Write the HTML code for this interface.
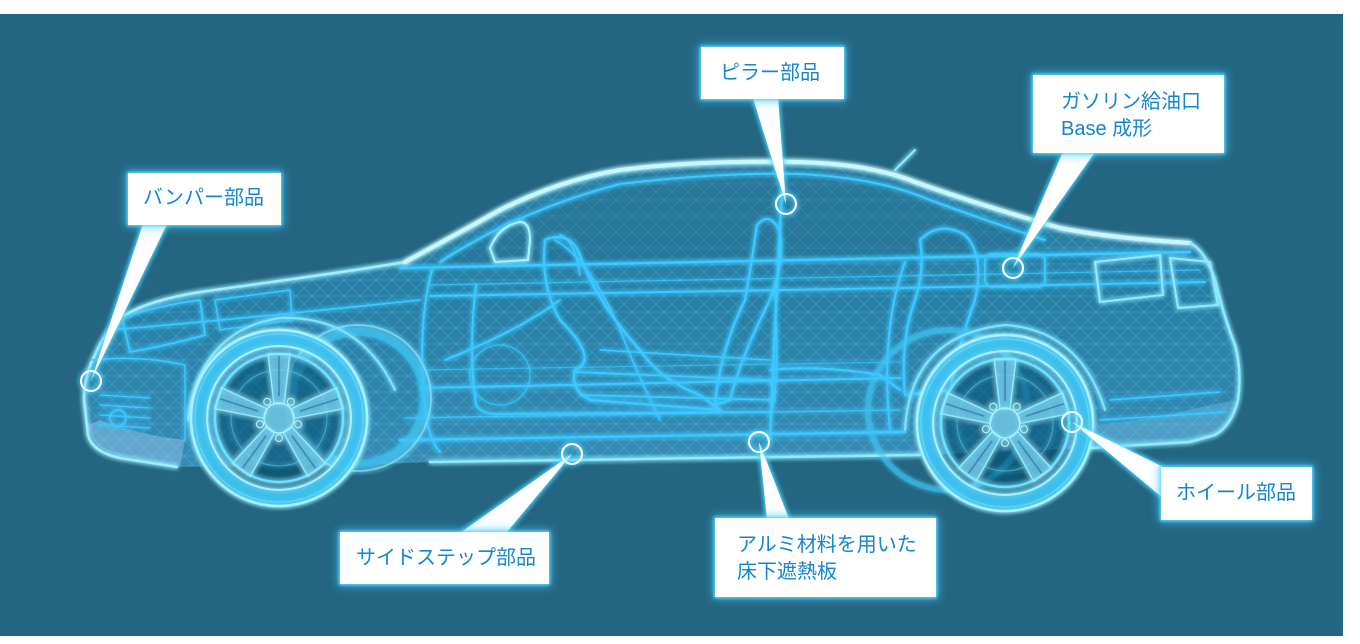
<!DOCTYPE html>
<html><head><meta charset="utf-8">
<style>
html,body{margin:0;padding:0;background:#fff;}
body{width:1360px;height:644px;position:relative;overflow:hidden;font-family:"Liberation Sans","Noto Sans CJK JP",sans-serif;}
svg{position:absolute;left:0;top:0;}
.box{position:absolute;background:#fff;color:#1486cf;font-size:20px;line-height:27px;box-shadow:0 0 3px 1px #5fdcff,0 0 9px 2px rgba(70,200,255,.7);box-sizing:border-box;white-space:nowrap;}
</style></head><body>
<svg width="1360" height="644" viewBox="0 0 1360 644" xmlns="http://www.w3.org/2000/svg">
<defs>
 <filter id="glow" x="-20%" y="-20%" width="140%" height="140%">
  <feGaussianBlur stdDeviation="2.5" result="b"/>
  <feMerge><feMergeNode in="b"/><feMergeNode in="b"/><feMergeNode in="SourceGraphic"/></feMerge>
 </filter>
 <filter id="wglow" x="-50%" y="-50%" width="200%" height="200%">
  <feGaussianBlur stdDeviation="3" result="b"/>
  <feFlood flood-color="#4fd8ff"/>
  <feComposite operator="in" in2="b"/>
  <feMerge><feMergeNode/><feMergeNode/><feMergeNode in="SourceGraphic"/></feMerge>
 </filter>
 <linearGradient id="bodyg" x1="0" y1="160" x2="0" y2="470" gradientUnits="userSpaceOnUse">
  <stop offset="0" stop-color="#45c8ff" stop-opacity=".28"/>
  <stop offset=".45" stop-color="#30b4ee" stop-opacity=".32"/>
  <stop offset="1" stop-color="#55c4ff" stop-opacity=".42"/>
 </linearGradient>
 <pattern id="mesh" width="16" height="16" patternUnits="userSpaceOnUse">
  <path d="M0,0 L16,16 M16,0 L0,16 M0,8 H16" stroke="#6fdcff" stroke-width=".6" fill="none" opacity=".6"/>
 </pattern>
 <clipPath id="bodyclip"><path d="M177,467 L120,458 Q92,452 88,435 L84,400 Q84,375 95,355 Q105,330 125,315 Q150,300 200,292 L300,278 Q370,268 405,262 Q450,238 500,210 Q560,180 620,170 Q700,160 800,162 Q870,164 915,182 Q980,205 1060,228 Q1110,238 1190,243 Q1205,250 1215,280 Q1225,320 1235,345 Q1242,370 1238,400 Q1232,425 1215,435 L1190,442 L1090,448 L920,455 L430,462 L360,465 Z"/></clipPath>
 <g id="wheel">
  <circle r="80" fill="none" stroke="#3ec2ef" stroke-opacity=".65" stroke-width="16"/>
  <circle r="88" fill="none" stroke="#a6f3ff" stroke-width="2.5"/>
  <circle r="84" fill="none" stroke="#6fe0ff" stroke-width="1" opacity=".7"/>
  <circle r="72" fill="none" stroke="#a6f3ff" stroke-width="2"/>
  <circle r="64" fill="rgba(20,80,110,.25)" stroke="#6fe0ff" stroke-width="2.5"/>
  <circle r="48" fill="none" stroke="#4fc8f0" stroke-width="1" opacity=".6"/>
  <g fill="rgba(130,225,255,.45)" stroke="#8eeaff" stroke-width="1.5">
   <polygon points="-5,-14 5,-14 11,-64 -11,-64"/>
   <polygon points="-5,-14 5,-14 11,-64 -11,-64" transform="rotate(72)"/>
   <polygon points="-5,-14 5,-14 11,-64 -11,-64" transform="rotate(144)"/>
   <polygon points="-5,-14 5,-14 11,-64 -11,-64" transform="rotate(216)"/>
   <polygon points="-5,-14 5,-14 11,-64 -11,-64" transform="rotate(288)"/>
  </g>
  <g stroke="#2a7fa3" stroke-width="1.5" opacity=".8">
   <line x1="0" y1="-22" x2="0" y2="-62"/>
   <line x1="0" y1="-22" x2="0" y2="-62" transform="rotate(72)"/>
   <line x1="0" y1="-22" x2="0" y2="-62" transform="rotate(144)"/>
   <line x1="0" y1="-22" x2="0" y2="-62" transform="rotate(216)"/>
   <line x1="0" y1="-22" x2="0" y2="-62" transform="rotate(288)"/>
  </g>
  <circle r="15" fill="rgba(130,225,255,.45)" stroke="#a6f3ff" stroke-width="1.5"/>
  <g fill="none" stroke="#a6f3ff" stroke-width="1.2">
   <circle cx="0" cy="-20" r="3.5" transform="rotate(36)"/>
   <circle cx="0" cy="-20" r="3.5" transform="rotate(108)"/>
   <circle cx="0" cy="-20" r="3.5" transform="rotate(180)"/>
   <circle cx="0" cy="-20" r="3.5" transform="rotate(252)"/>
   <circle cx="0" cy="-20" r="3.5" transform="rotate(324)"/>
  </g>
 </g>
</defs>

<rect x="0" y="14" width="1343" height="622" fill="#246581"/>

<!-- car body -->
<g>
 <path d="M177,467 L120,458 Q92,452 88,435 L84,400 Q84,375 95,355 Q105,330 125,315 Q150,300 200,292 L300,278 Q370,268 405,262 Q450,238 500,210 Q560,180 620,170 Q700,160 800,162 Q870,164 915,182 Q980,205 1060,228 Q1110,238 1190,243 Q1205,250 1215,280 Q1225,320 1235,345 Q1242,370 1238,400 Q1232,425 1215,435 L1190,442 L1090,448 L920,455 L430,462 L360,465 Z" fill="url(#bodyg)"/>
 <rect x="80" y="150" width="1170" height="330" fill="url(#mesh)" clip-path="url(#bodyclip)" opacity=".6"/>
 <path d="M440,266 Q520,205 620,178 Q720,165 800,168 Q880,172 930,195 Q990,220 1045,238 L1000,252 L440,272 Z" fill="#246581" opacity=".3"/>
 <path d="M88,425 Q92,450 120,456 L180,466 L185,440 Q140,435 100,420 Z" fill="#b8d8ff" opacity=".35"/>
 <path d="M1090,448 L1190,442 L1215,435 Q1232,425 1238,400 L1210,405 Q1150,420 1095,425 Z" fill="#9fd6ff" opacity=".25"/>
</g>
<g fill="none" stroke="#3ec8ff" stroke-width="1.8" stroke-linecap="round" filter="url(#glow)">
 <path d="M177,467 L120,458 Q92,452 88,435 L84,400 Q84,375 95,355 Q105,330 125,315 Q150,300 200,292 L300,278 Q370,268 405,262" stroke="#9eeeff" stroke-width="2.5"/>
 <path d="M405,262 Q450,238 500,210 Q560,180 620,170 Q700,160 800,162 Q870,164 915,182 Q980,205 1060,228 Q1110,238 1190,243" stroke="#c8f8ff" stroke-width="4"/>
 <path d="M1190,243 Q1205,250 1215,280 Q1225,320 1235,345 Q1242,370 1238,400 Q1232,425 1215,435 L1190,442 L1090,448" stroke="#8eeaff" stroke-width="2.5"/>
 <path d="M430,462 L920,455" stroke="#8eeaff" stroke-width="2.5"/>
 <path d="M440,262 Q520,210 620,184 Q720,172 800,174 Q880,178 930,200 Q990,222 1045,240" stroke-width="2"/>
 <path d="M400,268 L900,258 L1190,252" stroke-width="2.4"/>
 <path d="M430,296 L900,288 L1205,282" stroke-width="2"/>
 <path d="M430,285 L900,276 L1200,270" stroke-width="1.2" opacity=".7"/>
 <path d="M110,330 Q250,318 420,300" stroke-width="1.6"/>
 <path d="M420,388 L900,378" stroke-width="2"/>
 <path d="M420,370 L900,362" stroke-width="1.2" opacity=".6"/>
 <path d="M400,440 L905,432" stroke-width="2.4"/>
 <path d="M405,418 L900,410" stroke-width="1.4" opacity=".8"/>
 <path d="M432,270 Q418,320 424,400 Q428,440 440,452" stroke-width="2"/>
 <path d="M476,285 Q468,350 476,405 Q482,415 500,414 L770,412" stroke-width="2"/>
 <path d="M782,190 Q776,300 770,440" stroke-width="2.4"/>
 <path d="M770,412 Q780,400 775,290" stroke-width="1.6"/>
 <path d="M905,262 Q880,330 890,430" stroke-width="2"/>
 <path d="M545,240 Q570,230 580,255 Q595,300 640,350 Q660,380 700,395 L720,410 L590,400 Q570,390 575,370 Q600,360 560,320 Q540,285 545,240 Z" stroke-width="2.2"/>
 <path d="M560,235 Q575,240 580,275" stroke-width="1.5"/>
 <path d="M445,360 Q520,330 560,300" stroke-width="2"/>
 <path d="M757,225 Q770,210 780,232 Q785,270 765,310 Q740,360 730,400 L715,405 Q720,350 745,300 Q752,260 757,225 Z" stroke-width="2.2"/>
 <path d="M575,372 L770,380 L775,400 L580,395" stroke-width="1.8"/>
 <path d="M600,350 L770,360" stroke-width="1.4"/>
 <path d="M770,370 Q820,365 880,375 L900,390" stroke-width="2.2"/>
 <path d="M555,240 Q590,260 620,330 Q640,380 660,420" stroke-width="1.5"/>
 <circle cx="500" cy="375" r="30" stroke-width="1.3" opacity=".7"/>
 <path d="M920,240 Q940,220 965,235 Q985,255 975,300 Q960,340 950,390 L905,395 Q900,340 915,300 Q925,270 920,240 Z" stroke-width="2.2"/>
 <path d="M490,248 Q500,225 520,222 Q530,222 530,240 L528,260 L495,262 Z" stroke="#a6f3ff" stroke-width="2"/>
 <path d="M122,318 Q160,305 200,300 L205,335 Q170,345 130,352 Z" stroke-width="1.8"/>
 <path d="M215,300 L290,290 L292,320 L220,330 Z" stroke-width="1.4"/>
 <path d="M100,395 L150,398 M100,405 L150,408 M100,415 L150,418 M98,425 L150,428" stroke-width="1.3"/>
 <circle cx="118" cy="418" r="8" stroke-width="1.5"/>
 <path d="M92,360 Q140,355 185,365 L185,440" stroke-width="1.4"/>
 <path d="M1095,262 L1160,255 L1163,295 L1100,302 Z" stroke="#8eeaff" stroke-width="2"/>
 <path d="M1170,258 L1210,262 L1218,305 L1178,308 Z" stroke="#8eeaff" stroke-width="2"/>
 <rect x="985" y="254" width="60" height="33" rx="7" stroke-width="1.8"/>
 <path d="M1110,400 L1220,392 M1100,420 L1225,412" stroke-width="1.5"/>
 <path d="M895,170 L915,150" stroke="#8eeaff" stroke-width="2"/>
 <circle cx="358" cy="398" r="66" stroke="#3ec2ef" stroke-width="8" opacity=".5"/>
 <circle cx="358" cy="398" r="73" stroke="#7fe4ff" stroke-width="1.8" opacity=".7"/>
 <circle cx="948" cy="410" r="80" stroke="#3ec2ef" stroke-width="6" opacity=".45"/>
 <path d="M188,420 Q200,330 280,318 Q360,315 395,390" stroke="#7fe4ff" stroke-width="2"/>
 <path d="M905,430 Q910,335 1005,325 Q1080,330 1105,410" stroke="#7fe4ff" stroke-width="2"/>
</g>

<g filter="url(#glow)">
 <use href="#wheel" transform="translate(279,418)"/>
 <use href="#wheel" transform="translate(1005,423)"/>
</g>

<g fill="#fff" filter="url(#wglow)">
 <polygon points="143,224 167,224 91,381"/>
 <polygon points="753,98 778,98 786,204"/>
 <polygon points="1063,152 1095,152 1013,268"/>
 <polygon points="1072,422 1163,467 1163,498"/>
 <polygon points="572,454 460,533 506,533"/>
 <polygon points="759,442 767,519 789,519"/>
</g>
<g fill="none" stroke="#fff" stroke-width="2" filter="url(#wglow)">
 <circle cx="91" cy="381" r="10"/>
 <circle cx="786" cy="204" r="10"/>
 <circle cx="1013" cy="268" r="10"/>
 <circle cx="1072" cy="422" r="10"/>
 <circle cx="572" cy="454" r="10"/>
 <circle cx="759" cy="442" r="10"/>
</g>
</svg>

<div class="box" style="left:128px;top:173px;width:153px;height:52px;padding:12px 0 0 15px;">バンパー部品</div>
<div class="box" style="left:701px;top:47px;width:143px;height:52px;padding:13px 0 0 19px;">ピラー部品</div>
<div class="box" style="left:1033px;top:75px;width:191px;height:78px;padding:14px 0 0 28px;">ガソリン給油口<br>Base 成形</div>
<div class="box" style="left:1161px;top:467px;width:151px;height:53px;padding:13px 0 0 15px;">ホイール部品</div>
<div class="box" style="left:340px;top:532px;width:209px;height:52px;padding:13px 0 0 16px;">サイドステップ部品</div>
<div class="box" style="left:715px;top:518px;width:221px;height:79px;padding:14px 0 0 22px;">アルミ材料を用いた<br>床下遮熱板</div>
</body></html>
